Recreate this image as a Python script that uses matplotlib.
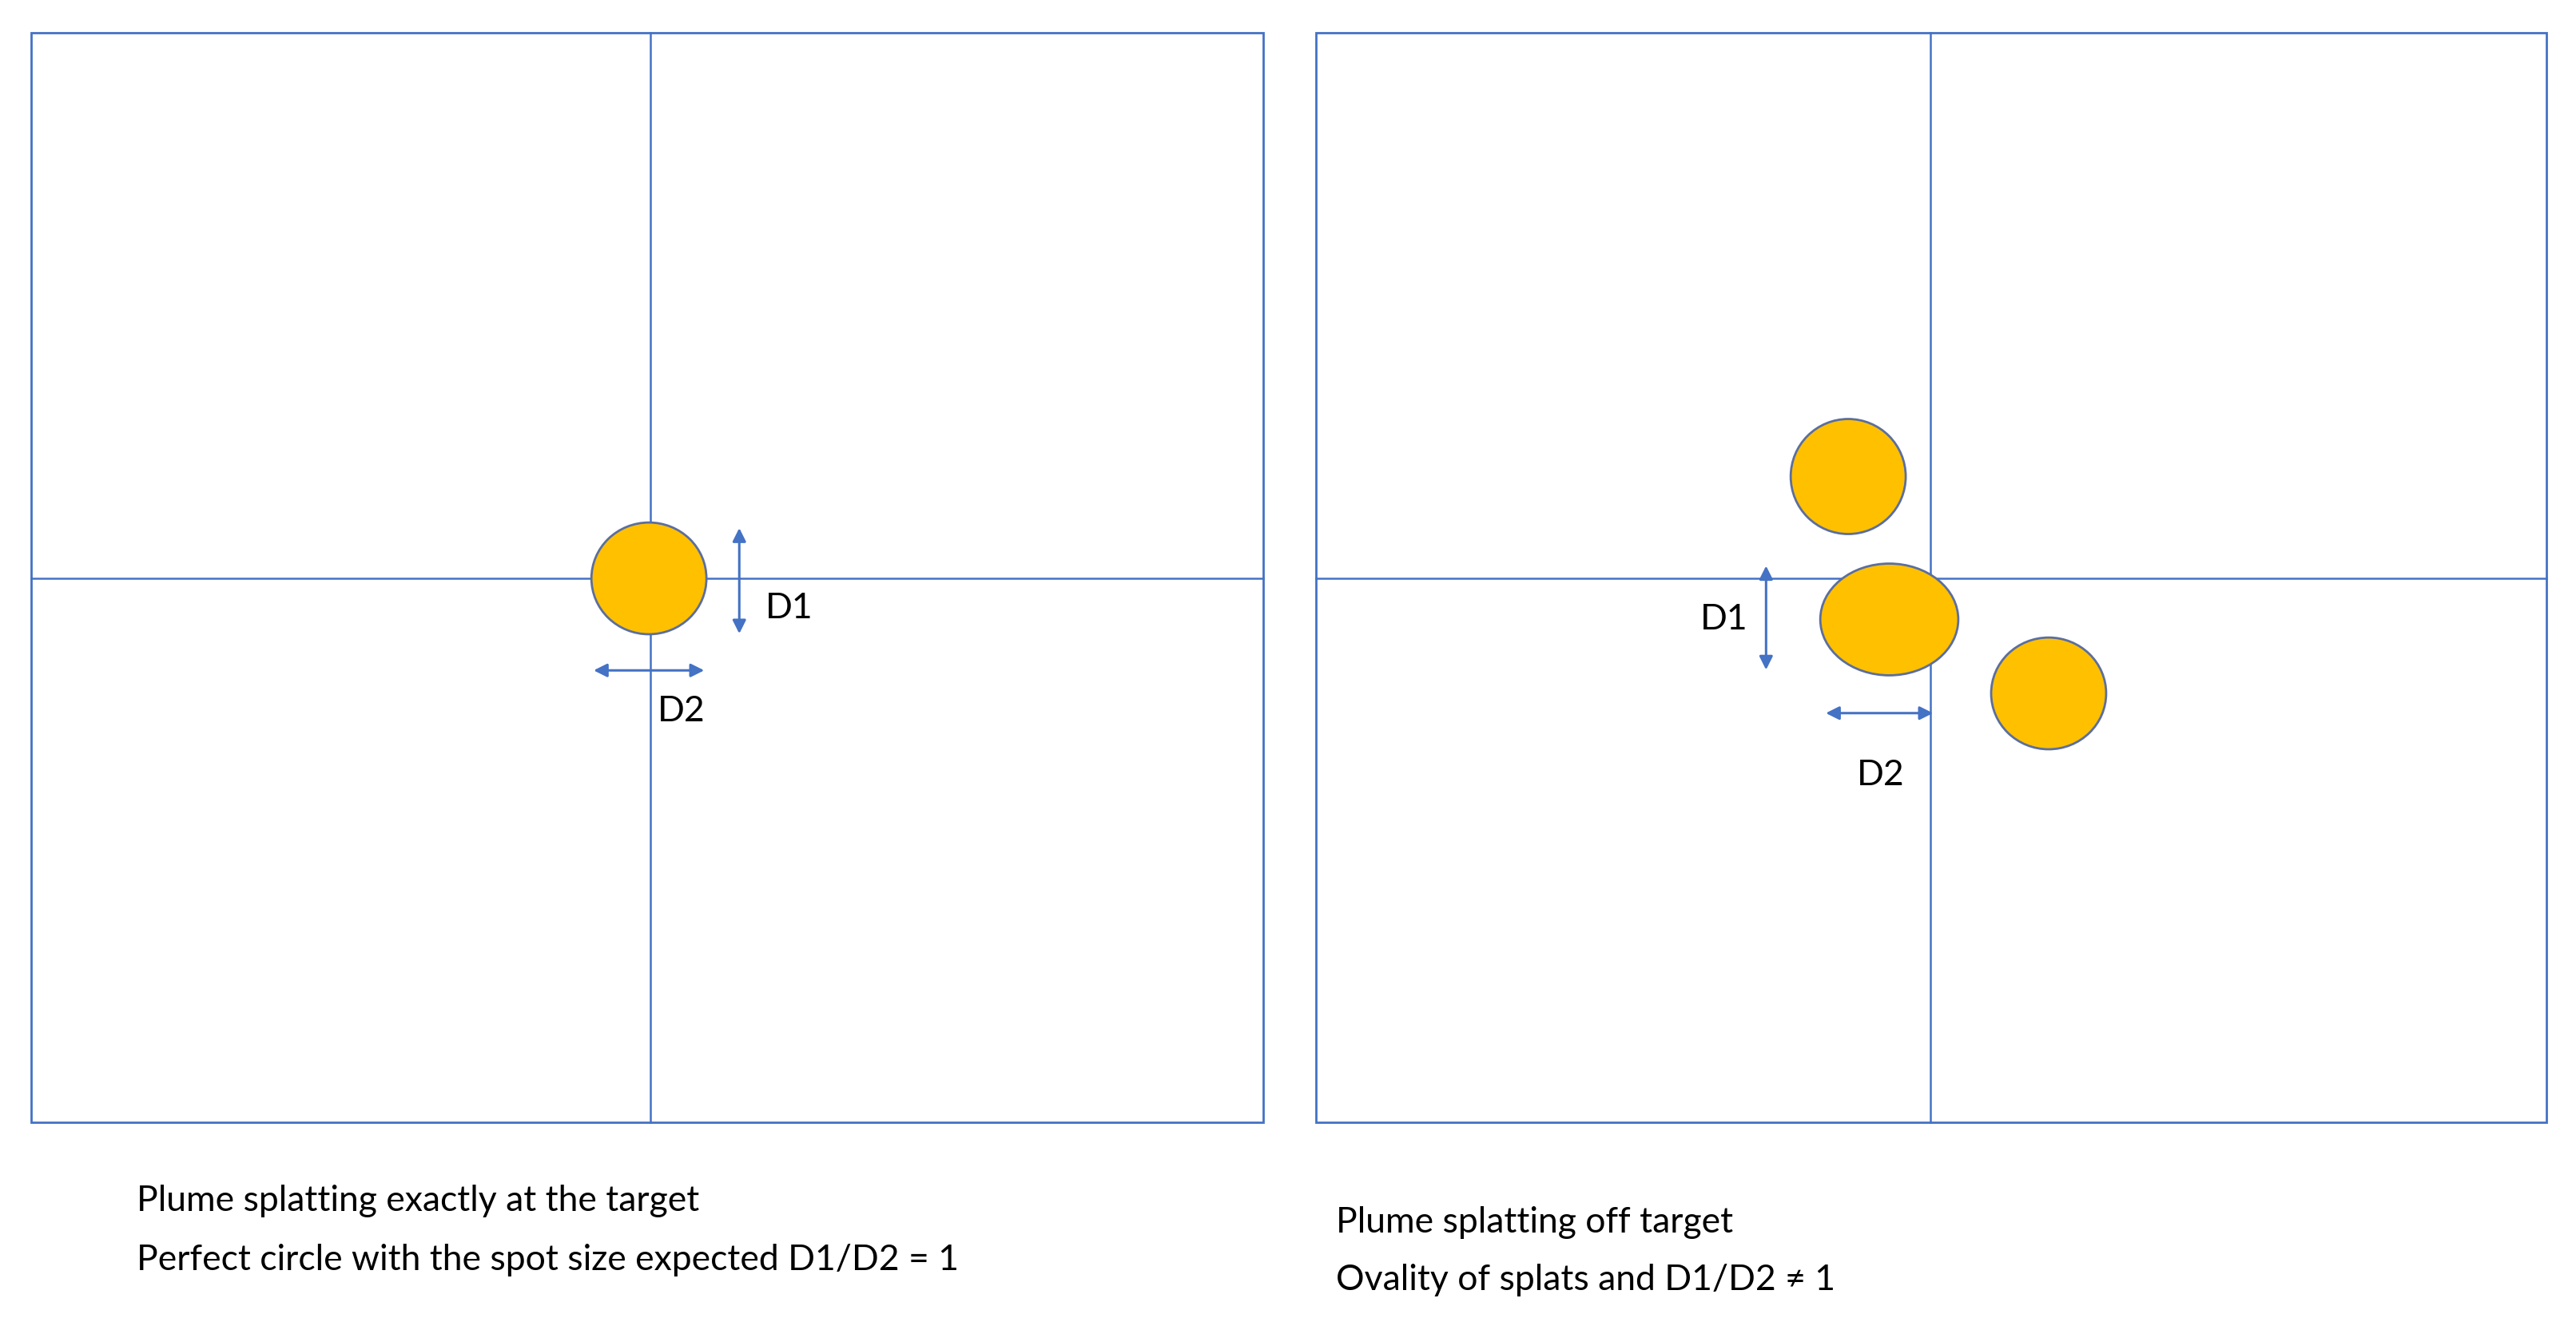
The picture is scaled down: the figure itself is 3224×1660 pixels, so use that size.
import matplotlib
matplotlib.use("Agg")
import matplotlib.pyplot as plt
from matplotlib.patches import Ellipse, Rectangle

plt.rcParams['font.family'] = ['Lato', 'DejaVu Sans']

# panels (x0, y0, x1, y1) and crosshair positions
panels = [(19, 20, 769, 683), (801, 20, 1550, 683)]
cross = [(396, 352), (1175, 352)]
# splats: (cx, cy, width, height)
splats = [(395, 352, 70, 68), (1125, 290, 70, 70), (1150, 377, 84, 68), (1247, 422, 70, 68)]
# dimension arrows: (x0, y0, x1, y1)
arrows = [(450, 320, 450, 387), (360, 408, 430, 408), (1075, 343, 1075, 409), (1110, 434, 1178, 434)]
dim_labels = [("D1", 466, 370), ("D2", 400, 433), ("D1", 1035, 377), ("D2", 1130, 472)]
captions = [("Plume splatting exactly at the target", 83, 731),
            ("Perfect circle with the spot size expected D1/D2 = 1", 83, 767),
            ("Plume splatting off target", 813, 744),
            ("Ovality of splats and D1/D2 \u2260 1", 813, 779)]

W, H = 1568, 807
fig = plt.figure(figsize=(32.24, 16.6), dpi=100)
ax = fig.add_axes([0, 0, 1, 1])
ax.set_xlim(0, W)
ax.set_ylim(H, 0)
ax.axis('off')
blue = '#4472C4'
for (x0, y0, x1, y1), (cx, cy) in zip(panels, cross):
    ax.add_patch(Rectangle((x0, y0), x1 - x0, y1 - y0, fill=False, ec=blue, lw=2))
    ax.plot([cx, cx], [y0, y1], color=blue, lw=1.8)
    ax.plot([x0, x1], [cy, cy], color=blue, lw=1.8)
for cx, cy, w, h in splats:
    ax.add_patch(Ellipse((cx, cy), w, h, fc='#FFC000', ec='#5B6E9E', lw=2, zorder=3))
for x0, y0, x1, y1 in arrows:
    ax.annotate('', xy=(x1, y1), xytext=(x0, y0),
                arrowprops=dict(arrowstyle='<|-|>', color=blue, lw=2.2, mutation_scale=25))
for t, x, y in dim_labels:
    ax.text(x, y, t, fontsize=32, va='center', ha='left')
for t, x, y in captions:
    ax.text(x, y, t, fontsize=32, va='center', ha='left')
fig.savefig('out.png', dpi=100)
